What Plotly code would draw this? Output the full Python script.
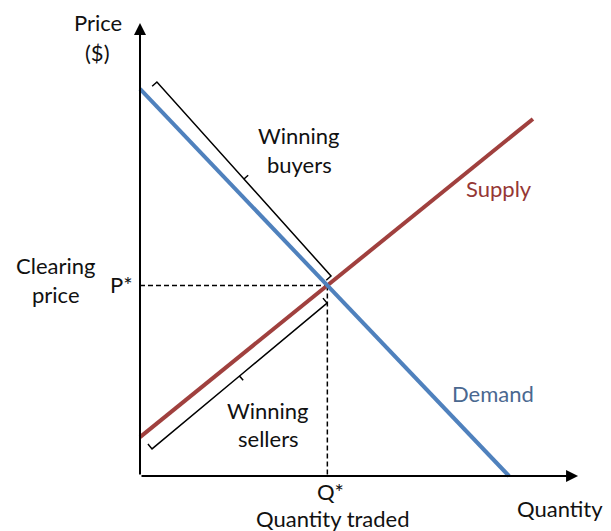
import numpy as np
import plotly.graph_objects as go

# ---- data (arbitrary units: quantity, price) ----
demand_q = [0.0, 19.63]
demand_p = [20.59, 0.0]
supply_q = [0.0, 20.90]
supply_p = [2.07, 18.99]

# bracket spans (corner points) along each curve
buyers_q = [0.90, 10.16]
buyers_p = [20.96, 10.64]
sellers_q = [0.64, 9.95]
sellers_p = [1.44, 9.20]

axis_q_max = 23.3
axis_p_max = 24.1

# equilibrium from the two lines
md = (demand_p[1] - demand_p[0]) / (demand_q[1] - demand_q[0])
ms = (supply_p[1] - supply_p[0]) / (supply_q[1] - supply_q[0])
q_star = (supply_p[0] - demand_p[0]) / (md - ms)
p_star = demand_p[0] + md * q_star

PX = 18.8  # pixels per unit (isotropic)
W, H = 611, 531
x0_px, y0_px = 140, 476

BLUE = "#4F81BD"
RED = "#A0403E"
FONT = "Lato"


def bracket(q, p, side, hook=0.34, stub=0.30):
    a = np.array([q[0], p[0]])
    b = np.array([q[1], p[1]])
    d = (b - a) / np.linalg.norm(b - a)
    n = np.array([-d[1], d[0]]) * side  # inward normal (toward curve)
    m = (a + b) / 2
    pts = [a + n * hook, a, m, m - n * stub, m, b, b + n * hook]
    pts = np.array(pts)
    return pts[:, 0], pts[:, 1]


fig = go.Figure()

# dashed guides
fig.add_trace(go.Scatter(x=[0, q_star], y=[p_star, p_star], mode="lines",
                         line=dict(color="black", width=1.5, dash="5px,3px"),
                         hoverinfo="skip"))
fig.add_trace(go.Scatter(x=[q_star, q_star], y=[p_star, 0], mode="lines",
                         line=dict(color="black", width=1.5, dash="5px,3px"),
                         hoverinfo="skip"))

# brackets
bx, by = bracket(buyers_q, buyers_p, side=-1)
fig.add_trace(go.Scatter(x=bx, y=by, mode="lines",
                         line=dict(color="black", width=1.5), hoverinfo="skip"))
sx, sy = bracket(sellers_q, sellers_p, side=1)
fig.add_trace(go.Scatter(x=sx, y=sy, mode="lines",
                         line=dict(color="black", width=1.5), hoverinfo="skip"))

# curves
fig.add_trace(go.Scatter(x=supply_q, y=supply_p, mode="lines",
                         line=dict(color=RED, width=4), name="Supply"))
fig.add_trace(go.Scatter(x=demand_q, y=demand_p, mode="lines",
                         line=dict(color=BLUE, width=4), name="Demand"))

# axes as arrows
for (tx, ty) in [(0, axis_p_max), (axis_q_max, 0)]:
    fig.add_annotation(x=tx, y=ty, ax=0, ay=0, xref="x", yref="y",
                       axref="x", ayref="y", showarrow=True, arrowhead=2,
                       arrowsize=1.2, arrowwidth=2, arrowcolor="black", text="")


def px2q(px):
    return (px - x0_px) / PX


def py2p(py):
    return (y0_px - py) / PX


labels = [
    ("Price", 98, 22, "#111"),
    ("($)", 97, 52, "#111"),
    ("Winning", 299, 135, "#111"),
    ("buyers", 299, 164, "#111"),
    ("Supply", 499, 188, "#953735"),
    ("Clearing", 55, 265, "#111"),
    ("price", 56, 294, "#111"),
    ("P*", 121, 284, "#111"),
    ("Winning", 268, 410, "#111"),
    ("sellers", 268, 438, "#111"),
    ("Demand", 493, 393, "#4A6890"),
    ("Q*", 330, 491, "#111"),
    ("Quantity traded", 333, 518, "#111"),
    ("Quantity", 560, 508, "#111"),
]
for t, xp, yp, c in labels:
    fig.add_annotation(x=px2q(xp), y=py2p(yp), xref="x", yref="y", text=t,
                       showarrow=False, font=dict(family=FONT, size=22, color=c),
                       xanchor="center", yanchor="middle")

fig.update_layout(
    width=W, height=H, margin=dict(l=0, r=0, t=0, b=0),
    paper_bgcolor="white", plot_bgcolor="white", showlegend=False,
    xaxis=dict(range=[px2q(0), px2q(W)], visible=False, fixedrange=True),
    yaxis=dict(range=[py2p(H), py2p(0)], visible=False, fixedrange=True),
)

fig.write_html("out.html", config={"displayModeBar": False},
               post_script="document.body.style.margin='0';document.body.style.overflow='hidden';")
